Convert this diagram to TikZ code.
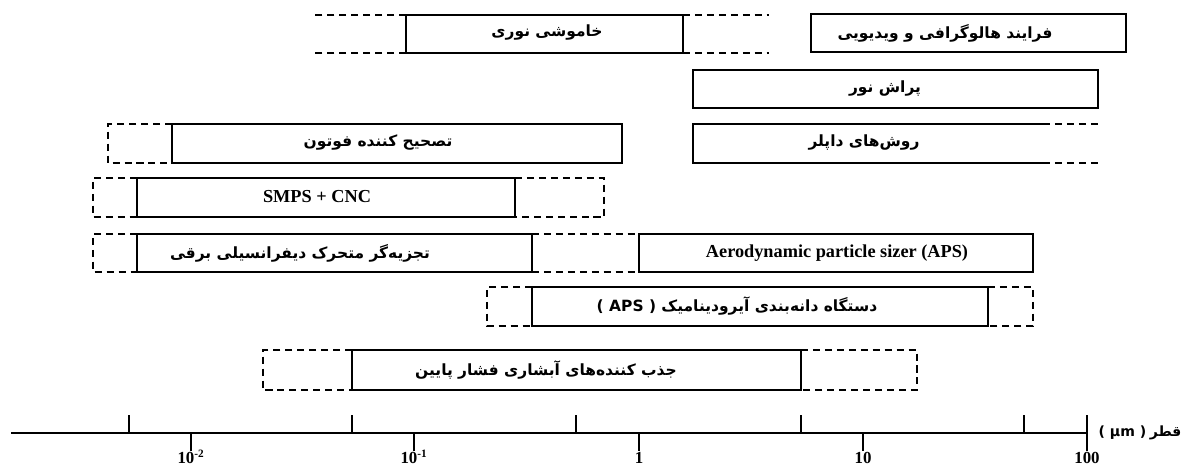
\documentclass[tikz,border=0pt]{standalone}
\usepackage{fontspec}
\setmainfont{Liberation Serif}
\newfontfamily\persfont[Script=Arabic]{DejaVu Sans}
\newfontfamily\latfont{DejaVu Sans}
\TeXXeTstate=1
\tikzset{
	ghost/.style={dash pattern=on 5pt off 3.5pt},
	farsi/.style={font=\persfont\bfseries\fontsize{11}{13}\selectfont,inner sep=0pt},
	latin/.style={font=\bfseries\fontsize{13}{15}\selectfont,inner sep=0pt},
	tick/.style={font=\bfseries\fontsize{12}{14}\selectfont,inner sep=0pt}
}

\begin{document}
\begin{tikzpicture}[x=0.025cm,y=-0.025cm,line width=0.8pt]
			\useasboundingbox (0,0) rectangle (1192,468);
			\draw (406,15) rectangle (683,53);
			\draw[ghost] (406,15) -- (315,15) (406,53) -- (315,53);
			\draw[ghost] (683,15) -- (769,15) (683,53) -- (769,53);
			\node[farsi] (khamushi) at (547,33) {\beginR خاموشی نوری\endR};
			\draw (811,14) rectangle (1126,52);
			\node[farsi] (holo) at (945,33) {\beginR فرایند هالوگرافی و ویدیویی\endR};
			\draw (693,70) rectangle (1098,108);
			\node[farsi] (parash) at (885,89) {\beginR پراش نور\endR};
			\draw (1043,124) -- (693,124) -- (693,163) -- (1043,163);
			\draw[ghost] (1043,124) -- (1102,124) (1043,163) -- (1102,163);
			\node[farsi] (doppler) at (864,143) {\beginR روش‌های داپلر\endR};
			\draw (172,124) rectangle (622,163);
			\draw[ghost] (172,124) -- (108,124) -- (108,163) -- (172,163);
			\node[farsi] (photon) at (378,143) {\beginR تصحیح کننده فوتون\endR};
			\draw (137,178) rectangle (515,217);
			\draw[ghost] (137,178) -- (93,178) -- (93,217) -- (137,217);
			\draw[ghost] (515,178) -- (604,178) -- (604,217) -- (515,217);
			\node[latin] (smps) at (317,197) {SMPS + CNC};
			\draw (137,234) rectangle (532,272);
			\draw[ghost] (137,234) -- (93,234) -- (93,272) -- (137,272);
			\draw[ghost] (532,234) -- (639,234) (532,272) -- (639,272);
			\node[farsi] (dma) at (300,253) {\beginR تجزیه‌گر متحرک دیفرانسیلی برقی\endR};
			\draw (639,234) rectangle (1033,272);
			\node[latin] (aps) at (837,253) {Aerodynamic particle sizer (APS)};
			\draw (532,287) rectangle (988,326);
			\draw[ghost] (532,287) -- (487,287) -- (487,326) -- (532,326);
			\draw[ghost] (988,287) -- (1033,287) -- (1033,326) -- (988,326);
			\node[farsi] (apsfa) at (737,306) {\beginR دستگاه دانه‌بندی آیرودینامیک \beginL{\latfont ( APS )}\endL\endR};
			\draw (352,350) rectangle (801,390);
			\draw[ghost] (352,350) -- (263,350) -- (263,390) -- (352,390);
			\draw[ghost] (801,350) -- (917,350) -- (917,390) -- (801,390);
			\node[farsi] (impactor) at (546,370) {\beginR جذب کننده‌های آبشاری فشار پایین\endR};
			\draw (11,433) -- (1087,433);
			\foreach \x in {129,352,576,801,1024} \draw (\x,433) -- (\x,415);
			\foreach \x in {191,414,639,863} \draw (\x,433) -- (\x,451);
			\draw (1087,415) -- (1087,451);
			\node[tick] (em2) at (191,457) {10\textsuperscript{-2}};
			\node[tick] (em1) at (414,457) {10\textsuperscript{-1}};
			\node[tick] (one) at (639,458) {1};
			\node[tick] (ten) at (863,458) {10};
			\node[tick] (hundred) at (1087,458) {100};
			\node[font=\fontsize{10}{12}\selectfont,inner sep=0pt] (qotr) at (1140,433) {{\latfont\bfseries ( µm )} {\persfont\bfseries\beginR قطر\endR}};
		\end{tikzpicture}
\end{document}
